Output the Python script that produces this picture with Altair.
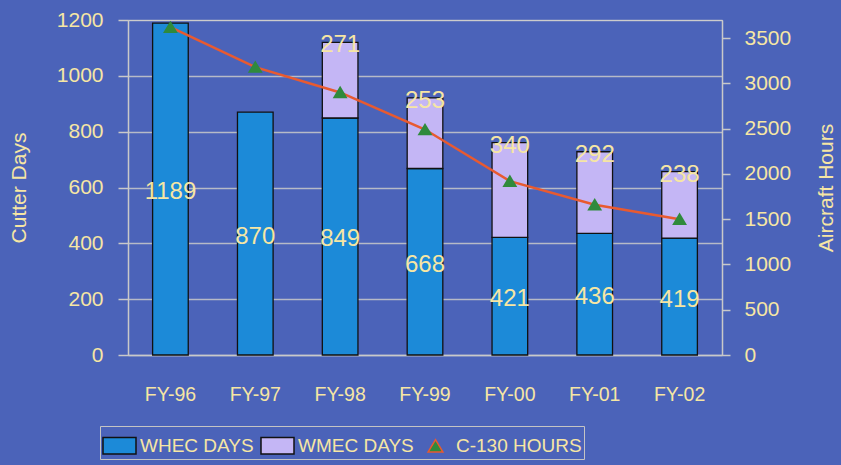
import altair as alt
import pandas as pd

years = ["FY-96", "FY-97", "FY-98", "FY-99", "FY-00", "FY-01", "FY-02"]
whec_days = [1189, 870, 849, 668, 421, 436, 419]
wmec_days = [0, 0, 271, 253, 340, 292, 238]
c130_hours = [3620, 3180, 2900, 2490, 1920, 1660, 1500]
series = ["WHEC DAYS", "WMEC DAYS", "C-130 HOURS"]
left_ticks = [0, 200, 400, 600, 800, 1000, 1200]
right_ticks = [0, 500, 1000, 1500, 2000, 2500, 3000, 3500]

FONT = "Liberation Sans"
YEL = "#f6e6a4"
GRID = "#c9c9c9"
BG = "#4b63b9"

rows = []
for i, y in enumerate(years):
    rows.append({"year": y, "series": series[0], "value": whec_days[i], "ord": 0,
                 "label_y": whec_days[i] / 2})
    if wmec_days[i] > 0:
        rows.append({"year": y, "series": series[1], "value": wmec_days[i], "ord": 1,
                     "label_y": whec_days[i] + wmec_days[i]})
bars_df = pd.DataFrame(rows)
line_df = pd.DataFrame({"year": years, "hours": c130_hours, "series": series[2]})

rect_path = "M-1,-0.5H1V0.5H-1Z"
tri_path = "M0,-0.4L0.45,0.35H-0.45Z"

leg = alt.Legend(title=None, orient="none", legendX=-28, legendY=406,
                 direction="horizontal", columns=3, strokeColor="#c4c4c4",
                 padding=2, labelFontSize=19, labelColor=YEL, labelFont=FONT,
                 labelOffset=3, columnPadding=4, symbolSize=1089,
                 symbolStrokeWidth=1.5, symbolOpacity=1, labelLimit=300)

color_scale = alt.Scale(domain=series, range=["#1c8ad8", "#c4b6f5", "#2f8a3c"])
stroke_scale = alt.Scale(domain=series, range=["#111111", "#111111", "#e85a30"])
shape_scale = alt.Scale(domain=series, range=[rect_path, rect_path, tri_path])

x_axis = alt.Axis(labelAngle=0, labelFontSize=19.5, labelColor=YEL, labelFont=FONT,
                  labelPadding=30, ticks=False, domainColor=GRID, domainWidth=1.5)
xenc = alt.X("year:N", sort=years, title=None,
             scale=alt.Scale(paddingInner=0.58, paddingOuter=0.29), axis=x_axis)

left_scale = alt.Scale(domain=[0, 1200], nice=False)
left_axis = alt.Axis(values=left_ticks, format="d", labelFontSize=21, labelColor=YEL,
                     labelFont=FONT, titleFontSize=21, titleColor=YEL, titleFont=FONT,
                     titleFontWeight="normal", titlePadding=27, tickSize=10, labelPadding=15,
                     tickColor=GRID, tickWidth=1.5, domainColor=GRID, domainWidth=1.5,
                     gridColor=GRID, gridWidth=1.5, gridOpacity=0.85)

right_scale = alt.Scale(domain=[0, 3700], nice=False)
right_axis = alt.Axis(orient="right", values=right_ticks, format="d", grid=False,
                      labelFontSize=21, labelColor=YEL, labelFont=FONT, titleFontSize=21,
                      titleColor=YEL, titleFont=FONT, titleFontWeight="normal",
                      titleAngle=270, titleBaseline="top", titlePadding=25, tickSize=8,
                      tickWidth=1.5, labelPadding=14, tickColor=GRID, domainColor=GRID,
                      domainWidth=1.5)

bars = alt.Chart(bars_df).mark_bar(strokeWidth=1.3).encode(
    x=xenc,
    y=alt.Y("value:Q", stack="zero", scale=left_scale, title="Cutter Days", axis=left_axis),
    order=alt.Order("ord:Q"),
    color=alt.Color("series:N", scale=color_scale, legend=leg),
    stroke=alt.Stroke("series:N", scale=stroke_scale, legend=leg),
)

texts = alt.Chart(bars_df).mark_text(fontSize=24, font=FONT, color=YEL, baseline="middle", dy=3).encode(
    x=xenc,
    y=alt.Y("label_y:Q", scale=left_scale, title="Cutter Days", axis=left_axis),
    text=alt.Text("value:Q"),
)

line = alt.Chart(line_df).mark_line(color="#e85a30", strokeWidth=2.5).encode(
    x=xenc,
    y=alt.Y("hours:Q", scale=right_scale, title="Aircraft Hours", axis=right_axis),
)

points = alt.Chart(line_df).mark_point(filled=True, size=1089, opacity=1).encode(
    x=xenc,
    y=alt.Y("hours:Q", scale=right_scale, title="Aircraft Hours", axis=right_axis),
    color=alt.Color("series:N", scale=color_scale, legend=leg),
    shape=alt.Shape("series:N", scale=shape_scale, legend=leg),
)

left = alt.layer(bars, texts)
right = alt.layer(line, points)

chart = alt.layer(left, right).resolve_scale(y="independent").properties(
    width=594, height=335,
    autosize=alt.AutoSizeParams(type="none"),
    padding={"left": 128, "top": 20, "right": 119, "bottom": 110},
    background=BG,
).configure_view(strokeWidth=0).configure(font=FONT)

chart.save("out.html", embed_options={"renderer": "svg", "actions": False})
